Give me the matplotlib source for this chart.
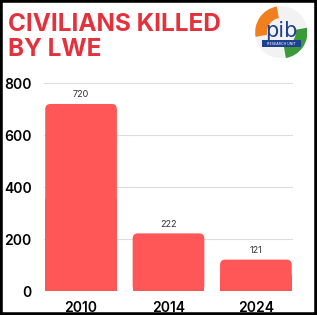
import matplotlib.pyplot as plt
from matplotlib.patches import FancyBboxPatch, Rectangle, Circle, Wedge

years = ['2010', '2014', '2024']
killed = [720, 222, 121]
yticks = [0, 200, 400, 600, 800]

bar_color = '#ff5757'
title_color = '#e3323b'

fig = plt.figure(figsize=(3.17, 3.15), dpi=100)
ax = fig.add_axes([0.139, 0.076, 0.785, 0.66])

ax.set_xlim(-0.423, 2.423)
ax.set_ylim(0, 800)

w = 0.82
px_x = 0.785 * 317 / 2.846
px_y = 0.66 * 315 / 800
aspect = px_x / px_y
for i, v in enumerate(killed):
    # rounded top, square bottom
    ax.add_patch(FancyBboxPatch((i - w / 2, 0), w, v,
                                boxstyle='round,pad=0,rounding_size=0.06',
                                mutation_aspect=aspect, fc=bar_color, ec='none', zorder=3))
    ax.add_patch(Rectangle((i - w / 2, 0), w, v / 2, fc=bar_color, ec='none', zorder=3))
    ax.text(i, v + 18, str(v), ha='center', va='bottom', fontsize=6.5,
            color='#333333', family='Inter')

ax.set_xticks(range(len(years)))
ax.set_xticklabels(years, fontsize=10, family='Inter', fontweight='semibold')
ax.set_yticks(yticks)
ax.set_yticklabels([str(t) for t in yticks], fontsize=10, family='Inter', fontweight='semibold')
ax.tick_params(length=0, pad=7)
ax.tick_params(axis='y', pad=9)
ax.grid(axis='y', color='#dddddd', linewidth=0.8, zorder=0)
for s in ax.spines.values():
    s.set_visible(False)

fig.text(0.026, 0.882, 'CIVILIANS KILLED\nBY LWE', fontsize=17.5, fontweight='bold',
         color=title_color, family='Inter', va='center', linespacing=1.08)

# logo
lax = fig.add_axes([0.805, 0.81, 0.165, 0.175])
lax.set_xlim(-1, 1)
lax.set_ylim(-1, 1)
lax.set_aspect('equal')
lax.axis('off')
lax.add_patch(Circle((0, 0), 1, fc='#f2f2f2', ec='none'))
lax.add_patch(Wedge((0, 0), 1, 100, 190, width=0.45, fc='#f07f1e', ec='none'))
lax.add_patch(Wedge((0, 0), 1, 280, 10, width=0.45, fc='#3a9a3a', ec='none'))
lax.text(0, 0.05, 'pib', ha='center', va='center', fontsize=15, color='#1f3f8f',
         family='DejaVu Sans')
lax.add_patch(Rectangle((-0.75, -0.55), 1.5, 0.25, fc='#1f3f8f', ec='none'))
lax.text(0, -0.43, 'RESEARCH UNIT', ha='center', va='center', fontsize=2.5, color='white')

fig.patches.append(Rectangle((0, 0), 1, 1, transform=fig.transFigure, fill=False,
                             ec='black', lw=4, zorder=10))

fig.savefig('out.png', dpi=100)
